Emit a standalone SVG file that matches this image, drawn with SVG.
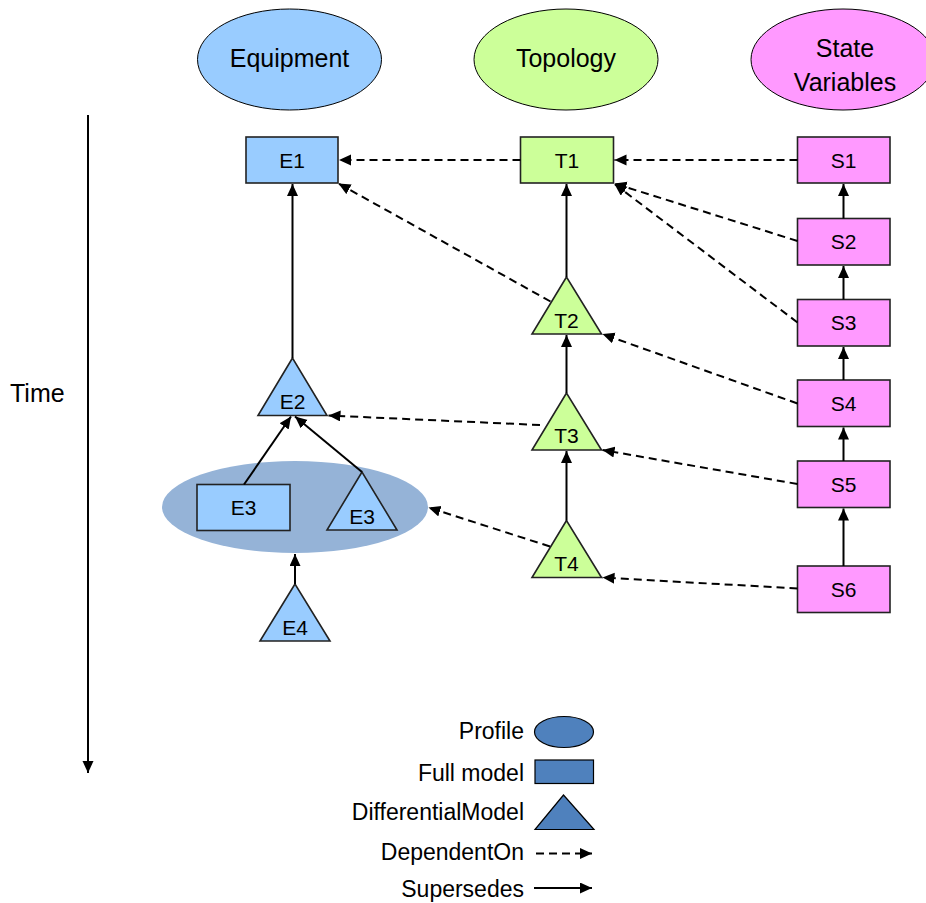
<svg xmlns="http://www.w3.org/2000/svg" width="926" height="903" viewBox="0 0 926 903">
<style>
text{font-family:"Liberation Sans",Arial,sans-serif;fill:#000}
.hdr{font-size:25px;text-anchor:middle}
.lbl{font-size:21px;text-anchor:middle}
.leg{font-size:23px;text-anchor:end}
.eq{fill:#99CCFF;stroke:#222;stroke-width:1.6}
.tp{fill:#CCFF99;stroke:#222;stroke-width:1.6}
.sv{fill:#FF99FF;stroke:#222;stroke-width:1.6}
.hd{stroke:#000;stroke-width:1}
.sol{stroke:#000;stroke-width:2;fill:none;marker-end:url(#ah)}
.dsh{stroke:#000;stroke-width:2;fill:none;stroke-dasharray:8 5;marker-end:url(#ah)}
.lg{fill:#4F81BD;stroke:#000;stroke-width:1.2}
</style>
<defs>
<marker id="ah" markerUnits="userSpaceOnUse" markerWidth="13" markerHeight="12" viewBox="0 0 13 12" refX="12" refY="5.5" orient="auto">
<path d="M0,0 L12,5.5 L0,11 z" fill="#000"/>
</marker>
</defs>
<rect width="926" height="903" fill="#fff"/>

<g id="header-equipment"><ellipse class="eq hd" cx="289.5" cy="59.5" rx="92" ry="50.5"/><text class="hdr" x="289.5" y="67">Equipment</text></g>
<g id="header-topology"><ellipse class="tp hd" cx="566" cy="59.5" rx="92" ry="50.5"/><text class="hdr" x="566" y="67">Topology</text></g>
<g id="header-state"><ellipse class="sv hd" cx="843" cy="59.5" rx="92" ry="50.5"/><text class="hdr" x="845" y="57">State</text><text class="hdr" x="845" y="91">Variables</text></g>

<g id="time-axis"><line x1="88" y1="115" x2="88" y2="773" class="sol"/><text x="10" y="402" style="font-size:25px">Time</text></g>

<g id="profile-E3"><ellipse cx="295" cy="507" rx="133" ry="46" fill="#95B3D7"/></g>

<g id="E1"><rect class="eq" x="246" y="137" width="92" height="46"/><text class="lbl" x="292" y="167.5">E1</text></g>
<g id="E2"><polygon class="eq" points="292.5,358 258,415.5 327,415.5"/><text class="lbl" x="292.5" y="409">E2</text></g>
<g id="E3-full"><rect class="eq" x="197" y="484.5" width="93" height="46"/><text class="lbl" x="243.5" y="515">E3</text></g>
<g id="E3-diff"><polygon class="eq" points="362,472 327,530 397,530"/><text class="lbl" x="362" y="524">E3</text></g>
<g id="E4"><polygon class="eq" points="295,584 260,641 330,641"/><text class="lbl" x="295" y="634.5">E4</text></g>

<g id="T1"><rect class="tp" x="520.5" y="137" width="93" height="46"/><text class="lbl" x="567" y="167.5">T1</text></g>
<g id="T2"><polygon class="tp" points="566.5,277 532,334 601.5,334"/><text class="lbl" x="566.5" y="328">T2</text></g>
<g id="T3"><polygon class="tp" points="566.5,393 532,450 601.5,450"/><text class="lbl" x="566.5" y="443">T3</text></g>
<g id="T4"><polygon class="tp" points="566.5,520.5 532,577.5 601.5,577.5"/><text class="lbl" x="566.5" y="571">T4</text></g>

<g id="S1"><rect class="sv" x="797.5" y="137" width="92.5" height="46"/><text class="lbl" x="843.5" y="167.5">S1</text></g>
<g id="S2"><rect class="sv" x="797.5" y="218.5" width="92.5" height="46.5"/><text class="lbl" x="843.5" y="249">S2</text></g>
<g id="S3"><rect class="sv" x="797.5" y="299.5" width="92.5" height="46.5"/><text class="lbl" x="843.5" y="330">S3</text></g>
<g id="S4"><rect class="sv" x="797.5" y="380" width="92.5" height="46.5"/><text class="lbl" x="843.5" y="410.5">S4</text></g>
<g id="S5"><rect class="sv" x="797.5" y="461" width="92.5" height="46.5"/><text class="lbl" x="843.5" y="492">S5</text></g>
<g id="S6"><rect class="sv" x="797.5" y="566" width="92.5" height="46.5"/><text class="lbl" x="843.5" y="596.5">S6</text></g>

<g id="connectors">
<line class="sol" x1="292.5" y1="358" x2="292.5" y2="184"/>
<line class="sol" x1="244" y1="484.5" x2="291" y2="416.5"/>
<line class="sol" x1="362" y1="472" x2="295" y2="416.5"/>
<line class="sol" x1="295" y1="584" x2="295" y2="554"/>
<line class="sol" x1="566.5" y1="277" x2="566.5" y2="184"/>
<line class="sol" x1="566.5" y1="393" x2="566.5" y2="335"/>
<line class="sol" x1="566.5" y1="520.5" x2="566.5" y2="451"/>
<line class="sol" x1="843.5" y1="218.5" x2="843.5" y2="184"/>
<line class="sol" x1="843.5" y1="299.5" x2="843.5" y2="266"/>
<line class="sol" x1="843.5" y1="380" x2="843.5" y2="347"/>
<line class="sol" x1="843.5" y1="461" x2="843.5" y2="427.5"/>
<line class="sol" x1="843.5" y1="566" x2="843.5" y2="508.5"/>

<line class="dsh" x1="520.5" y1="160" x2="339" y2="160"/>
<line class="dsh" x1="797.5" y1="160" x2="614.5" y2="160"/>
<line class="dsh" x1="797.5" y1="241" x2="614.5" y2="183.5"/>
<line class="dsh" x1="797.5" y1="322.5" x2="614.5" y2="184"/>
<line class="dsh" x1="550.5" y1="301.5" x2="338.5" y2="183.5"/>
<line class="dsh" x1="797.5" y1="403.5" x2="602.5" y2="334"/>
<line class="dsh" x1="540" y1="425" x2="328.5" y2="415.5"/>
<line class="dsh" x1="797.5" y1="484" x2="602.5" y2="450"/>
<line class="dsh" x1="550" y1="546.5" x2="428.5" y2="507.5"/>
<line class="dsh" x1="797.5" y1="588.5" x2="602.5" y2="577.5"/>
</g>

<g id="legend">
<text class="leg" x="524" y="739">Profile</text>
<ellipse class="lg" cx="564" cy="732" rx="29.5" ry="15.5"/>
<text class="leg" x="524" y="781">Full model</text>
<rect class="lg" x="535" y="760" width="58.5" height="23.5"/>
<text class="leg" x="524" y="820">DifferentialModel</text>
<polygon class="lg" points="563.5,795 535,829.5 594,829.5"/>
<text class="leg" x="524" y="860">DependentOn</text>
<line class="dsh" x1="536" y1="853.5" x2="592" y2="853.5"/>
<text class="leg" x="524" y="897">Supersedes</text>
<line class="sol" x1="534" y1="888" x2="592" y2="888"/>
</g>
</svg>
